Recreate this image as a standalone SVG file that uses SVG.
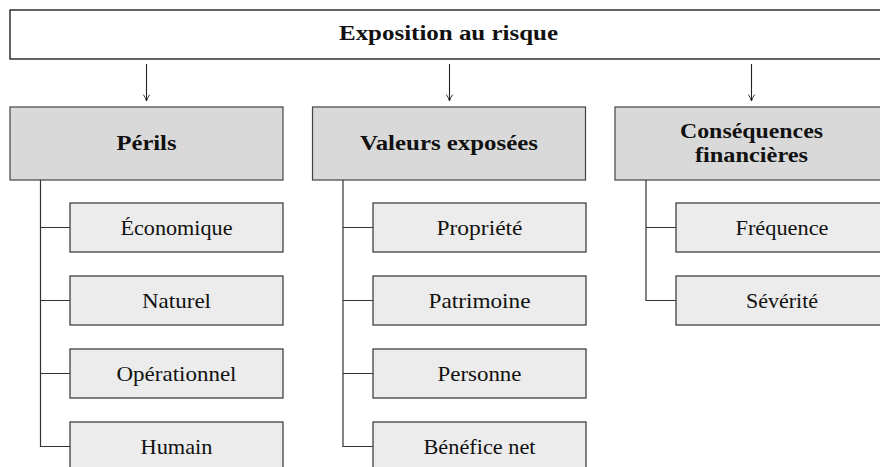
<svg xmlns="http://www.w3.org/2000/svg" width="880" height="467" viewBox="0 0 880 467">
<defs>
<marker id="arr" viewBox="0 0 10 10" refX="9" refY="5" markerWidth="8" markerHeight="8" markerUnits="userSpaceOnUse" orient="auto">
<path d="M1,1 Q5,4 9,5 Q5,6 1,9" fill="none" stroke="#222" stroke-width="1.1"/>
</marker>
<style>
.top{fill:#ffffff;stroke:#111;stroke-width:1.3}
.hdr{fill:#d9d9d9;stroke:#444;stroke-width:1.2}
.chd{fill:#ececec;stroke:#333;stroke-width:1.2}
.b{font-family:"Liberation Serif","DejaVu Serif",serif;font-weight:bold;font-size:20px;fill:#111;text-anchor:middle}
.r{font-family:"Liberation Serif","DejaVu Serif",serif;font-size:21px;fill:#111;text-anchor:middle}
.con{fill:none;stroke:#333;stroke-width:1.2}
.arw{fill:none;stroke:#222;stroke-width:1.1;marker-end:url(#arr)}
</style>
</defs>
<g id="connectors">
<line class="arw" x1="146.5" y1="64" x2="146.5" y2="101"/>
<line class="arw" x1="449.5" y1="64" x2="449.5" y2="101"/>
<line class="arw" x1="751.5" y1="64" x2="751.5" y2="101"/>
<path class="con" d="M40.5,180 V446.5 H70 M40.5,227.5 H70 M40.5,300.5 H70 M40.5,373.5 H70"/>
<path class="con" d="M343,180 V446.5 H373 M343,227.5 H373 M343,300.5 H373 M343,373.5 H373"/>
<path class="con" d="M646,180 V300.5 H676 M646,227.5 H676"/>
</g>
<g id="exposition">
<rect class="top" x="10" y="10" width="878" height="49"/>
<text class="b" x="448.5" y="40" textLength="219" lengthAdjust="spacingAndGlyphs">Exposition au risque</text>
</g>
<g id="perils">
<rect class="hdr" x="10" y="107" width="273" height="73"/>
<text class="b" x="146.5" y="150" textLength="60" lengthAdjust="spacingAndGlyphs">Périls</text>
</g>
<g id="valeurs">
<rect class="hdr" x="312.5" y="107" width="273" height="73"/>
<text class="b" x="449" y="150" textLength="178" lengthAdjust="spacingAndGlyphs">Valeurs exposées</text>
</g>
<g id="consequences">
<rect class="hdr" x="615" y="107" width="273" height="73"/>
<text class="b" x="751.5" y="137.5" textLength="143" lengthAdjust="spacingAndGlyphs">Conséquences</text>
<text class="b" x="751.5" y="161.5" textLength="113" lengthAdjust="spacingAndGlyphs">financières</text>
</g>
<g id="economique">
<rect class="chd" x="70" y="203" width="213" height="49"/>
<text class="r" x="176.5" y="234.5" textLength="112" lengthAdjust="spacingAndGlyphs">Économique</text>
</g>
<g id="naturel">
<rect class="chd" x="70" y="276" width="213" height="49"/>
<text class="r" x="176.5" y="307.5" textLength="69" lengthAdjust="spacingAndGlyphs">Naturel</text>
</g>
<g id="operationnel">
<rect class="chd" x="70" y="349" width="213" height="49"/>
<text class="r" x="176.5" y="380.5" textLength="120" lengthAdjust="spacingAndGlyphs">Opérationnel</text>
</g>
<g id="humain">
<rect class="chd" x="70" y="422" width="213" height="49"/>
<text class="r" x="176.5" y="453.5" textLength="72" lengthAdjust="spacingAndGlyphs">Humain</text>
</g>
<g id="propriete">
<rect class="chd" x="373" y="203" width="213" height="49"/>
<text class="r" x="479.5" y="234.5" textLength="86" lengthAdjust="spacingAndGlyphs">Propriété</text>
</g>
<g id="patrimoine">
<rect class="chd" x="373" y="276" width="213" height="49"/>
<text class="r" x="479.5" y="307.5" textLength="102" lengthAdjust="spacingAndGlyphs">Patrimoine</text>
</g>
<g id="personne">
<rect class="chd" x="373" y="349" width="213" height="49"/>
<text class="r" x="479.5" y="380.5" textLength="84" lengthAdjust="spacingAndGlyphs">Personne</text>
</g>
<g id="benefice">
<rect class="chd" x="373" y="422" width="213" height="49"/>
<text class="r" x="479.5" y="453.5" textLength="112" lengthAdjust="spacingAndGlyphs">Bénéfice net</text>
</g>
<g id="frequence">
<rect class="chd" x="676" y="203" width="212" height="49"/>
<text class="r" x="782" y="234.5" textLength="93" lengthAdjust="spacingAndGlyphs">Fréquence</text>
</g>
<g id="severite">
<rect class="chd" x="676" y="276" width="212" height="49"/>
<text class="r" x="782" y="307.5" textLength="72" lengthAdjust="spacingAndGlyphs">Sévérité</text>
</g>
</svg>
